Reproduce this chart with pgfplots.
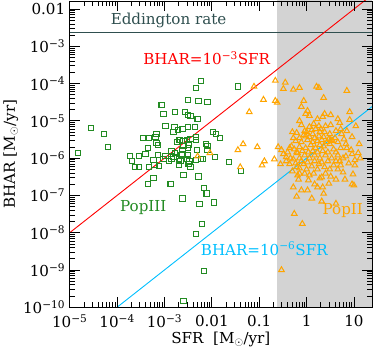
\documentclass[border=0pt]{standalone}
\usepackage{pgfplots}
\pgfplotsset{compat=1.18}
\usepackage{pgfplotstable}
\usepackage{fontspec}
\setmainfont{DejaVu Serif}
\definecolor{popthree}{RGB}{34,139,34}
\definecolor{poptwo}{RGB}{255,165,0}
\definecolor{eddc}{RGB}{47,79,79}
\definecolor{cyanl}{RGB}{0,191,255}
\definecolor{shade}{RGB}{211,211,211}

% log10(SFR) log10(BHAR)
\pgfplotstableread{
lx ly
-4.83 -5.86
-4.55 -5.19
-4.28 -5.35
-4.19 -5.70
-3.72 -5.95
-3.68 -6.08
-3.62 -6.24
-3.53 -6.24
-3.53 -5.95
-3.45 -5.46
-3.40 -5.89
-3.32 -5.46
-3.32 -6.24
-3.19 -5.43
-3.17 -5.35
-3.06 -4.57
-3.02 -4.81
-2.98 -5.14
-2.79 -5.16
-2.77 -4.76
-2.81 -5.30
-2.72 -5.24
-2.62 -5.22
-2.57 -4.76
-2.51 -4.43
-2.51 -4.84
-2.45 -4.86
-2.51 -5.16
-2.36 -5.16
-2.30 -4.95
-2.28 -4.46
-2.09 -4.49
-2.23 -3.92
-2.34 -4.11
-1.45 -4.08
-1.98 -5.30
-1.91 -5.35
-1.83 -5.46
-2.74 -5.57
-2.68 -5.51
-2.60 -5.54
-2.53 -5.51
-2.45 -5.49
-2.34 -5.51
-2.34 -5.43
-3.17 -5.59
-3.13 -5.65
-2.60 -5.68
-2.49 -5.65
-2.13 -5.62
-2.09 -5.68
-3.34 -5.73
-2.62 -5.78
-2.51 -5.73
-2.32 -5.78
-2.09 -5.78
-2.85 -5.81
-2.77 -5.86
-2.62 -5.89
-3.13 -5.92
-2.98 -5.95
-2.81 -5.97
-2.64 -5.92
-2.51 -5.92
-3.23 -6.05
-3.02 -6.03
-2.91 -6.08
-2.85 -6.03
-2.70 -6.03
-2.66 -6.08
-2.53 -6.03
-2.47 -6.08
-2.34 -6.05
-2.23 -6.03
-2.19 -6.03
-1.94 -5.97
-1.64 -6.11
-3.21 -6.19
-3.11 -6.22
-2.70 -6.19
-2.49 -6.16
-2.45 -6.24
-2.60 -6.46
-2.28 -6.49
-3.34 -6.70
-3.23 -6.54
-2.87 -6.70
-2.17 -6.81
-2.11 -6.95
-2.62 -7.08
-2.26 -7.24
-1.96 -7.19
-2.21 -7.76
-2.34 -8.03
-2.17 -9.03
-2.60 -9.84
-1.38 -6.35
}\popthree

\pgfplotstableread{
lx ly
-1.11 -4.08
-0.66 -3.92
-0.45 -3.97
-0.49 -4.14
-0.28 -4.16
-0.15 -4.11
0.21 -4.08
0.26 -4.11
0.85 -4.19
0.36 -4.38
-0.91 -4.43
-0.66 -4.46
-0.62 -4.51
-0.06 -4.46
-1.21 -4.76
-0.11 -4.62
0.02 -4.73
0.06 -4.86
-0.02 -4.81
0.38 -4.81
0.51 -4.84
0.34 -4.89
0.66 -4.95
0.91 -4.76
0.91 -4.97
-0.11 -5.11
0.15 -5.08
0.26 -5.14
0.30 -5.22
0.40 -5.14
1.04 -5.14
0.51 -5.11
-0.30 -5.30
-0.21 -5.32
0.00 -5.30
0.11 -5.24
0.19 -5.22
0.38 -5.30
0.62 -5.27
0.72 -5.22
0.74 -5.35
-0.04 -5.27
-0.28 -5.46
-0.15 -5.46
-0.02 -5.41
0.06 -5.43
0.17 -5.46
0.26 -5.41
0.36 -5.43
0.47 -5.49
0.60 -5.46
0.79 -5.49
0.96 -5.43
0.66 -5.57
0.51 -5.51
-1.34 -5.62
-1.04 -5.70
-1.45 -5.78
-0.60 -5.70
-0.53 -5.78
-0.40 -5.84
-0.21 -5.84
-0.36 -5.73
-0.26 -5.76
-0.15 -5.70
-0.02 -5.73
0.09 -5.65
0.19 -5.73
0.28 -5.65
0.36 -5.68
0.49 -5.62
0.57 -5.76
0.72 -5.73
0.85 -5.73
1.11 -5.62
0.94 -5.78
1.09 -5.86
-2.30 -5.95
-2.04 -5.86
-0.89 -6.08
-0.68 -6.03
-0.49 -5.89
-0.43 -5.97
-0.34 -6.00
-0.28 -6.03
-0.15 -6.00
-0.04 -5.92
0.06 -6.00
0.17 -5.92
0.28 -6.00
0.40 -5.92
0.53 -6.00
0.66 -5.92
0.77 -6.00
0.96 -5.89
1.13 -6.00
1.02 -6.05
-0.94 -6.19
-1.40 -6.24
-0.55 -6.16
-0.36 -6.16
-0.21 -6.24
-0.06 -6.16
0.11 -6.22
0.26 -6.16
0.38 -6.24
0.57 -6.19
0.72 -6.19
0.89 -6.14
1.02 -6.19
-0.15 -6.41
-0.04 -6.41
0.15 -6.41
0.51 -6.49
0.32 -6.51
0.77 -6.38
0.98 -6.43
-0.19 -6.46
-0.28 -6.78
-0.17 -6.57
0.04 -6.59
0.28 -6.54
0.17 -6.70
0.34 -6.78
-0.11 -6.86
0.02 -6.86
0.23 -6.78
0.47 -6.68
0.36 -6.95
0.11 -7.08
0.32 -7.16
0.62 -7.22
-0.21 -7.03
-0.26 -7.49
-0.09 -7.76
0.96 -6.70
1.00 -6.73
-0.53 -9.00
-0.23 -5.54
-0.11 -5.57
0.02 -5.51
0.13 -5.57
0.23 -5.54
0.32 -5.51
0.43 -5.57
0.55 -5.54
-0.19 -5.86
-0.09 -5.81
0.04 -5.84
0.13 -5.81
0.23 -5.84
0.34 -5.81
0.45 -5.84
0.62 -5.84
-0.23 -6.14
-0.11 -6.08
0.02 -6.11
0.17 -6.08
0.32 -6.11
0.45 -6.08
0.62 -6.08
-0.15 -6.27
0.00 -6.30
0.23 -6.30
0.49 -6.30
0.66 -6.30
0.06 -5.16
-0.06 -5.38
0.13 -5.35
0.49 -5.35
0.28 -5.30
-0.32 -5.68
-0.43 -6.08
-0.30 -6.35
0.06 -6.46
0.40 -6.41
0.62 -6.57
0.81 -6.57
0.23 -4.95
-0.15 -5.00
0.70 -5.05
0.85 -5.27
0.83 -5.62
0.83 -5.95
0.70 -6.08
}\poptwo

\begin{document}
\begin{tikzpicture}
\begin{axis}[
  scale only axis,
  width=300pt, height=304pt,
  xmode=log, ymode=log,
  xmin=1e-5, xmax=24,
  ymin=1e-10, ymax=0.0165,
  axis on top,
  tick align=inside,
  major tick length=10pt,
  minor tick length=5pt,
  every tick/.style={black, line width=0.8pt},
  axis line style={line width=0.8pt},
  xtick={1e-5,1e-4,1e-3,1e-2,1e-1,1,10},
  xticklabels={10\textsuperscript{−5},10\textsuperscript{−4},10\textsuperscript{−3},0.01,0.1,1,10},
  ytick={1e-10,1e-9,1e-8,1e-7,1e-6,1e-5,1e-4,1e-3,1e-2},
  yticklabels={10\textsuperscript{−10},10\textsuperscript{−9},10\textsuperscript{−8},10\textsuperscript{−7},10\textsuperscript{−6},10\textsuperscript{−5},10\textsuperscript{−4},10\textsuperscript{−3},0.01},
  tick label style={font=\fontsize{15}{18}\selectfont},
  xticklabel style={yshift=-4pt},
  yticklabel style={xshift=-1pt},
  label style={font=\fontsize{15}{18}\selectfont},
  xlabel={SFR\ \ [M$_\odot$/yr]},
  ylabel={BHAR [M$_\odot$/yr]},
  xlabel style={yshift=3pt},
  ylabel style={yshift=-2pt},
  clip=true,
]
\addplot[fill=shade, draw=none] coordinates {(0.24,1e-11) (100,1e-11) (100,1) (0.24,1)} -- cycle;
\addplot[eddc, line width=1pt] coordinates {(1e-6,2.4e-3) (100,2.4e-3)};
\addplot[red, line width=0.9pt] coordinates {(1e-6,1e-9) (100,0.1)};
\addplot[cyanl, line width=0.9pt] coordinates {(1e-5,1e-11) (100,1e-4)};
\addplot[only marks, mark=square, mark size=2.6pt, popthree, mark options={line width=1pt}]
  table[x expr={10^(\thisrow{lx})}, y expr={10^(\thisrow{ly})}] {\popthree};
\addplot[only marks, mark=triangle, mark size=3.2pt, poptwo, mark options={line width=1pt}]
  table[x expr={10^(\thisrow{lx})}, y expr={10^(\thisrow{ly})}] {\poptwo};
\node[eddc, font=\fontsize{15}{18}\selectfont] at (axis cs:1.22e-3,5.0e-3) {Eddington rate};
\node[red, font=\fontsize{15}{18}\selectfont] at (axis cs:7.8e-3,4.74e-4) {BHAR=10\textsuperscript{−3}SFR};
\node[popthree, font=\fontsize{15}{18}\selectfont] at (axis cs:3.57e-4,4.74e-8) {PopIII};
\node[poptwo, font=\fontsize{15}{18}\selectfont] at (axis cs:5.8,3.9e-8) {PopII};
\node[cyanl, font=\fontsize{15}{18}\selectfont] at (axis cs:0.128,3.7e-9) {BHAR=10\textsuperscript{−6}SFR};
\end{axis}
\path (current axis.east) ++(5pt,0);
\end{tikzpicture}
\end{document}
